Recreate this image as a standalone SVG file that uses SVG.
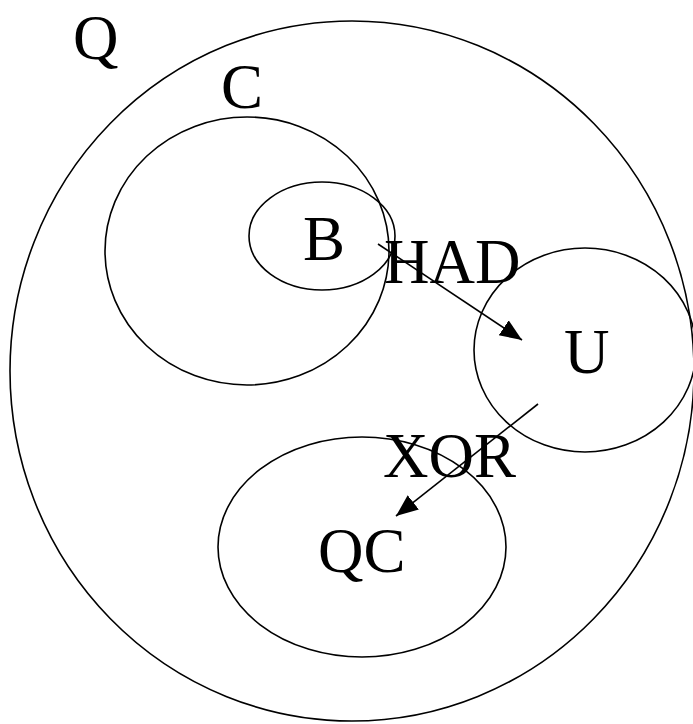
<svg xmlns="http://www.w3.org/2000/svg" width="693" height="724" viewBox="0 0 693 724">
<style>
.s{fill:none;stroke:#000;stroke-width:1.6}
.t{font-family:"Liberation Serif","Times New Roman",serif;font-size:63px;fill:#000}
.c{stroke:#000;stroke-width:1.6;fill:none}
</style>
<defs>
<marker id="ah" markerUnits="userSpaceOnUse" markerWidth="24" markerHeight="20" refX="22" refY="9" orient="auto">
<path d="M0,0 L22,9 L0,18 Z" fill="#000"/>
</marker>
</defs>
<rect width="693" height="724" fill="#fff"/>
<g id="Q"><ellipse class="s" cx="352" cy="371" rx="342" ry="350"/><text class="t" x="73" y="59">Q</text></g>
<g id="C"><ellipse class="s" cx="247" cy="251" rx="142" ry="134"/><text class="t" x="221" y="108">C</text></g>
<g id="B"><ellipse class="s" cx="322" cy="236" rx="73" ry="54"/><text class="t" x="303" y="260">B</text></g>
<g id="U"><ellipse class="s" cx="585" cy="350" rx="111" ry="102"/><text class="t" x="564" y="373">U</text></g>
<g id="QC"><ellipse class="s" cx="362" cy="547" rx="144" ry="110"/><text class="t" x="318" y="572">QC</text></g>
<g id="connectors">
<line class="c" x1="378" y1="244" x2="522" y2="340" marker-end="url(#ah)"/>
<text class="t" x="384" y="283">HAD</text>
<line class="c" x1="538" y1="404" x2="396" y2="516" marker-end="url(#ah)"/>
<text class="t" x="383" y="477">XOR</text>
</g>
</svg>
